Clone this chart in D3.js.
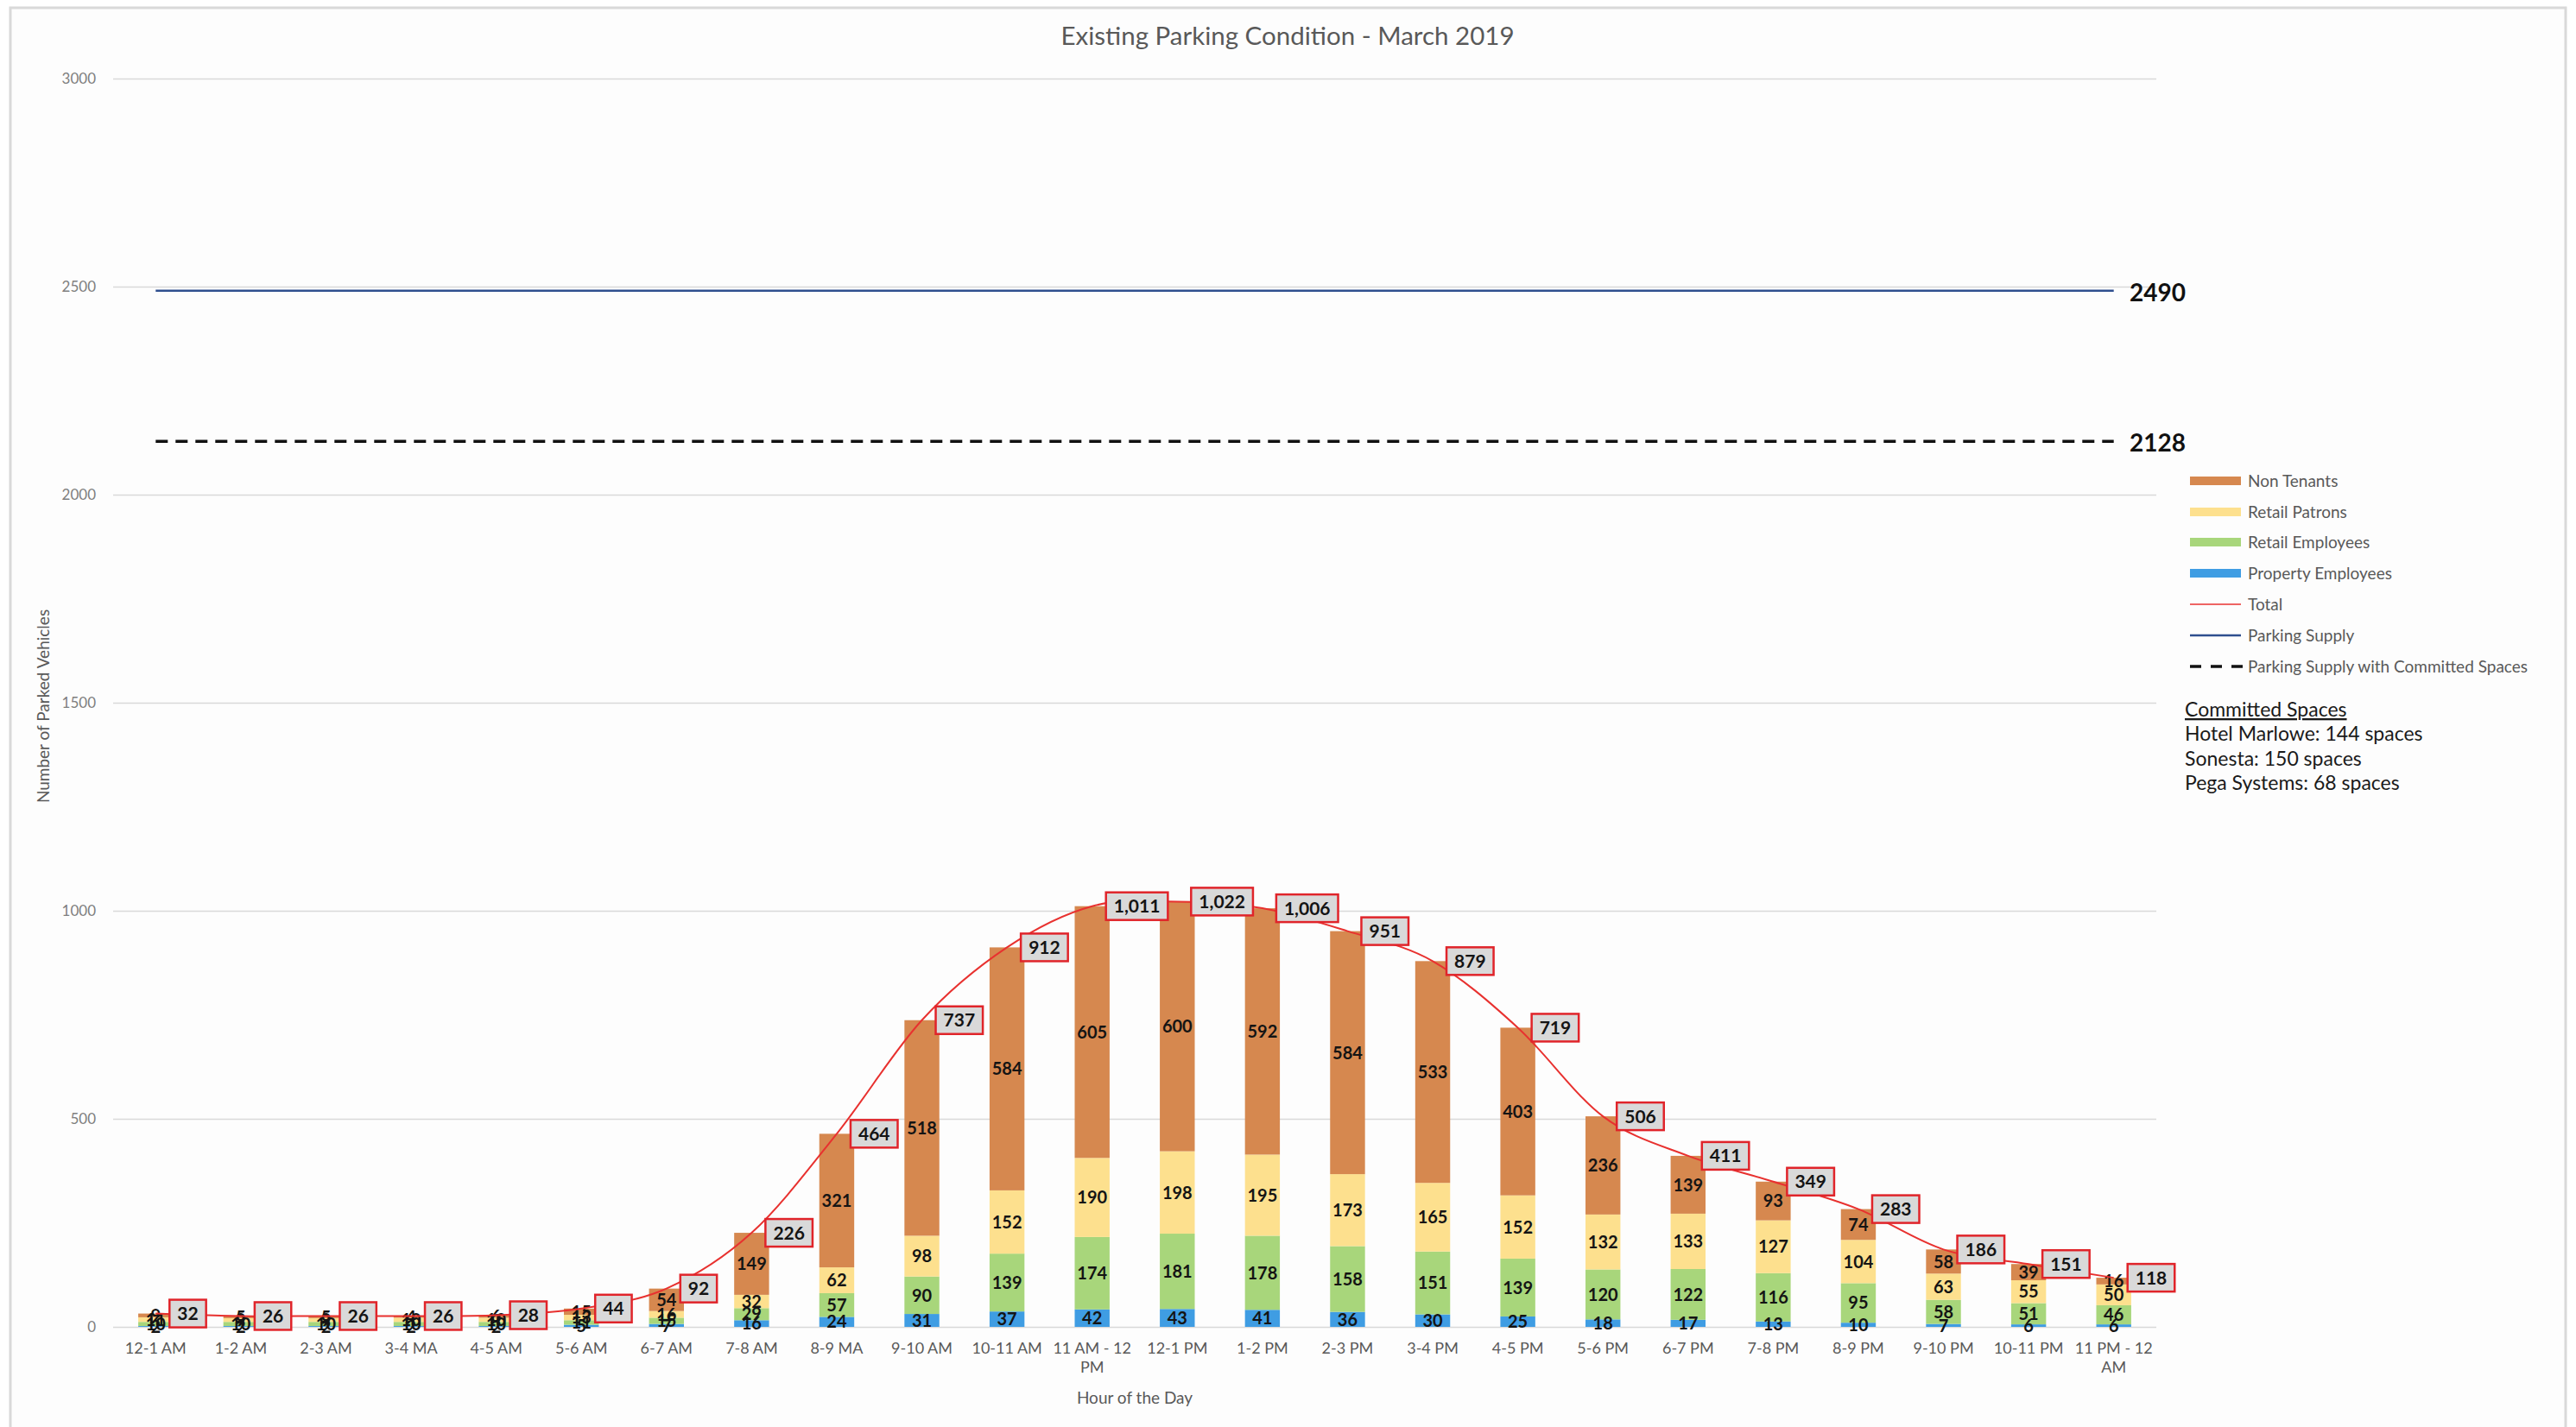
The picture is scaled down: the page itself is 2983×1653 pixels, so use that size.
<!DOCTYPE html>
<html>
<head>
<meta charset="utf-8">
<script src="https://cdn.jsdelivr.net/npm/d3@7"></script>
<style>
  html, body { margin: 0; padding: 0; background: #ffffff; }
  svg { display: block; font-family: Lato, "Open Sans", sans-serif; }
</style>
</head>
<body>
<svg id="chart" width="2983" height="1653"></svg>
<script>
// ---------------- DATA ----------------
const categories = ["12-1 AM","1-2 AM","2-3 AM","3-4 MA","4-5 AM","5-6 AM","6-7 AM","7-8 AM","8-9 MA","9-10 AM","10-11 AM","11 AM - 12 PM","12-1 PM","1-2 PM","2-3 PM","3-4 PM","4-5 PM","5-6 PM","6-7 PM","7-8 PM","8-9 PM","9-10 PM","10-11 PM","11 PM - 12 AM"];
const propertyEmployees = [2,2,2,2,2,5,7,16,24,31,37,42,43,41,36,30,25,18,17,13,10,7,6,6];
const retailEmployees   = [10,10,10,10,10,11,15,29,57,90,139,174,181,178,158,151,139,120,122,116,95,58,51,46];
const retailPatrons     = [11,9,9,10,10,13,16,32,62,98,152,190,198,195,173,165,152,132,133,127,104,63,55,50];
const nonTenants        = [9,5,5,4,6,15,54,149,321,518,584,605,600,592,584,533,403,236,139,93,74,58,39,16];
const totals            = [32,26,26,26,28,44,92,226,464,737,912,1011,1022,1006,951,879,719,506,411,349,283,186,151,118];
const parkingSupply = 2490;
const parkingSupplyCommitted = 2128;
const yTicks = [0,500,1000,1500,2000,2500,3000];
const seriesNames = ["Property Employees","Retail Employees","Retail Patrons","Non Tenants"];
const legendNames = ["Non Tenants","Retail Patrons","Retail Employees","Property Employees","Total","Parking Supply","Parking Supply with Committed Spaces"];
const committedTitle = "Committed Spaces";
const committedLines = ["Hotel Marlowe: 144 spaces","Sonesta: 150 spaces","Pega Systems: 68 spaces"];
const chartTitle = "Existing Parking Condition - March 2019";
const xTitle = "Hour of the Day";
const yTitle = "Number of Parked Vehicles";

// ---------------- STYLE ----------------
const colors = {
  "Non Tenants": "#d6884f",
  "Retail Patrons": "#fde08e",
  "Retail Employees": "#a8d67b",
  "Property Employees": "#3f9de3",
  "Total": "#e8312f",
  "Parking Supply": "#2f4f8f",
  "Committed": "#111111"
};

const svg = d3.select("#chart");
const W = 2983, H = 1653;
const plot = {left: 131, right: 2497, top: 91, bottom: 1537};

// frame
svg.append("rect").attr("x", 0).attr("y", 0).attr("width", W).attr("height", H).attr("fill", "#ffffff");
svg.append("rect").attr("x", 12).attr("y", 9).attr("width", 2959).attr("height", 1700)
  .attr("fill", "#fdfdfd").attr("stroke", "#d9d9d9").attr("stroke-width", 3);

// scales
const x = d3.scaleBand().domain(categories).range([plot.left, plot.right]).padding(0);
const step = x.step();
const barW = step * 0.41;
const cx = d => x(d) + step / 2;
const y = d3.scaleLinear().domain([0, 3000]).range([plot.bottom, plot.top]);

// title
svg.append("text").attr("x", 1491).attr("y", 52).attr("text-anchor", "middle")
  .attr("font-size", 29.5).attr("fill", "#595959").text(chartTitle);

// y axis with gridlines
const yAxis = d3.axisLeft(y).tickValues(yTicks).tickSize(-(plot.right - plot.left)).tickPadding(20).tickFormat(d3.format("d"));
const gy = svg.append("g").attr("transform", `translate(${plot.left},0)`).call(yAxis);
gy.select(".domain").remove();
gy.selectAll(".tick line").attr("stroke", "#d9d9d9").attr("stroke-width", 1.5);
gy.selectAll(".tick text").attr("font-size", 17).attr("fill", "#7f7f7f").attr("font-family", "Lato, sans-serif");

// y title
svg.append("text").attr("transform", "translate(57,818) rotate(-90)").attr("text-anchor", "middle")
  .attr("font-size", 19).attr("fill", "#595959").text(yTitle);

// x axis
const xAxis = d3.axisBottom(x).tickSize(0).tickPadding(18);
const gx = svg.append("g").attr("transform", `translate(0,${plot.bottom})`).call(xAxis);
gx.select(".domain").remove();
gx.selectAll(".tick text").attr("font-size", 18).attr("fill", "#595959").attr("font-family", "Lato, sans-serif")
  .each(function() {
    const t = d3.select(this);
    const words = t.text().split(/\s+/);
    const maxW = step - 4;
    t.text(null);
    let line = [];
    let tspan = t.append("tspan").attr("x", 0).attr("dy", "0.71em");
    for (const w of words) {
      line.push(w);
      tspan.text(line.join(" "));
      if (tspan.node().getComputedTextLength() > maxW && line.length > 1) {
        line.pop();
        tspan.text(line.join(" "));
        line = [w];
        tspan = t.append("tspan").attr("x", 0).attr("dy", "1.25em").text(w);
      }
    }
  });

// x title
svg.append("text").attr("x", (plot.left + plot.right) / 2).attr("y", 1626).attr("text-anchor", "middle")
  .attr("font-size", 19).attr("fill", "#595959").text(xTitle);

// stacked bars
const rows = categories.map((c, i) => ({
  cat: c,
  "Property Employees": propertyEmployees[i],
  "Retail Employees": retailEmployees[i],
  "Retail Patrons": retailPatrons[i],
  "Non Tenants": nonTenants[i]
}));
const stacked = d3.stack().keys(seriesNames)(rows);

const gBars = svg.append("g");
stacked.forEach(layer => {
  gBars.selectAll(null).data(layer).enter().append("rect")
    .attr("x", d => cx(d.data.cat) - barW / 2)
    .attr("width", barW)
    .attr("y", d => y(d[1]))
    .attr("height", d => y(d[0]) - y(d[1]))
    .attr("fill", colors[layer.key]);
});
// segment labels
const gLab = svg.append("g");
stacked.forEach(layer => {
  gLab.selectAll(null).data(layer).enter().append("text")
    .attr("x", d => cx(d.data.cat))
    .attr("y", d => (y(d[0]) + y(d[1])) / 2)
    .attr("dy", "0.36em")
    .attr("text-anchor", "middle")
    .attr("font-size", 20).attr("font-weight", 700).attr("fill", "#141414")
    .text(d => d[1] - d[0]);
});

// parking supply lines
const flatLine = v => d3.line().x(d => cx(d)).y(() => y(v));
svg.append("path").attr("d", flatLine(parkingSupply)(categories)).attr("fill", "none")
  .attr("stroke", colors["Parking Supply"]).attr("stroke-width", 2.5);
svg.append("path").attr("d", flatLine(parkingSupplyCommitted)(categories)).attr("fill", "none")
  .attr("stroke", colors["Committed"]).attr("stroke-width", 3.5).attr("stroke-dasharray", "14,9");
svg.append("text").attr("x", 2466).attr("y", y(parkingSupply) + 2).attr("dy", "0.36em")
  .attr("font-size", 28).attr("font-weight", 700).attr("fill", "#111").text(d3.format("d")(parkingSupply));
svg.append("text").attr("x", 2466).attr("y", y(parkingSupplyCommitted) + 2).attr("dy", "0.36em")
  .attr("font-size", 28).attr("font-weight", 700).attr("fill", "#111").text(d3.format("d")(parkingSupplyCommitted));

// total line
const totalLine = d3.line().x((d, i) => cx(categories[i])).y(d => y(d)).curve(d3.curveCatmullRom.alpha(0));
svg.append("path").attr("d", totalLine(totals)).attr("fill", "none")
  .attr("stroke", colors["Total"]).attr("stroke-width", 2);

// total label boxes
const gTot = svg.append("g");
totals.forEach((v, i) => {
  const g = gTot.append("g");
  const bx = cx(categories[i]) + 16;
  const by = y(v);
  const rect = g.append("rect");
  const t = g.append("text").attr("font-size", 21).attr("font-weight", 700).attr("fill", "#141414")
    .attr("text-anchor", "middle").attr("dy", "0.36em").text(d3.format(",")(v));
  const tw = t.node().getComputedTextLength();
  const bw = tw + 18, bh = 32;
  rect.attr("x", bx).attr("y", by - bh / 2).attr("width", bw).attr("height", bh)
    .attr("fill", "#d9d9d9").attr("stroke", "#e0242a").attr("stroke-width", 2.5);
  t.attr("x", bx + bw / 2).attr("y", by);
});

// legend
const legY = [557, 593, 628, 664, 700, 736, 772];
const gLeg = svg.append("g");
legendNames.forEach((n, i) => {
  const yy = legY[i];
  if (i < 4) {
    gLeg.append("rect").attr("x", 2536).attr("y", yy - 5).attr("width", 59).attr("height", 10).attr("fill", colors[n]);
  } else if (n === "Total") {
    gLeg.append("line").attr("x1", 2536).attr("x2", 2595).attr("y1", yy).attr("y2", yy).attr("stroke", colors["Total"]).attr("stroke-width", 1.5);
  } else if (n === "Parking Supply") {
    gLeg.append("line").attr("x1", 2536).attr("x2", 2595).attr("y1", yy).attr("y2", yy).attr("stroke", colors["Parking Supply"]).attr("stroke-width", 2.5);
  } else {
    gLeg.append("line").attr("x1", 2536).attr("x2", 2597).attr("y1", yy).attr("y2", yy).attr("stroke", colors["Committed"]).attr("stroke-width", 3.5).attr("stroke-dasharray", "13,11");
  }
  gLeg.append("text").attr("x", 2603).attr("y", yy).attr("dy", "0.36em").attr("font-size", 19).attr("fill", "#595959").text(n);
});

// committed spaces note
svg.append("text").attr("x", 2530).attr("y", 830).attr("font-size", 23).attr("fill", "#1a1a1a")
  .attr("text-decoration", "underline").text(committedTitle);
committedLines.forEach((l, i) => {
  svg.append("text").attr("x", 2530).attr("y", 858 + i * 28.5).attr("font-size", 23).attr("fill", "#1a1a1a").text(l);
});
</script>
</body>
</html>
